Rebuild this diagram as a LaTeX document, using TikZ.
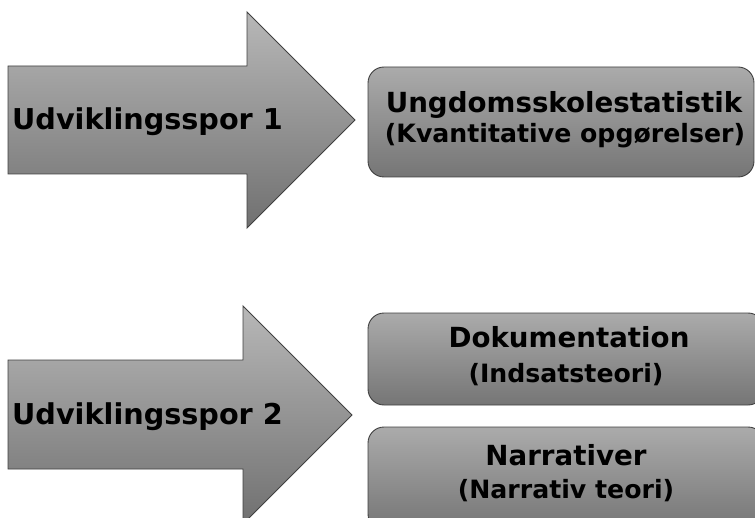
\documentclass[tikz,border=0pt]{standalone}
\usepackage{fontspec}
\setmainfont{DejaVu Sans}
\begin{document}
\begin{tikzpicture}[x=1bp,y=-1bp,
  arrowshape/.style={draw=black!75,line width=0.9bp,top color=black!28,bottom color=black!56},
  boxshape/.style={draw=black!75,line width=0.9bp,rounded corners=16bp,top color=black!33,bottom color=black!54},
  big/.style={font=\bfseries\fontsize{28.8}{30}\selectfont,inner sep=0pt},
  title/.style={font=\bfseries\fontsize{27.8}{29}\selectfont,inner sep=0pt},
  sub/.style={font=\bfseries\fontsize{25.3}{27}\selectfont,inner sep=0pt}]
\useasboundingbox (0,0) rectangle (755,518);
\begin{scope}
\clip (0,0) rectangle (755,518);
% arrows
\path[arrowshape] (8,66) -- (247,66) -- (247,12) -- (355,120) -- (247,228) -- (247,174) -- (8,174) -- cycle;
\path[arrowshape] (8,360) -- (243,360) -- (243,306) -- (352,415) -- (243,524) -- (243,469) -- (8,469) -- cycle;
% boxes
\path[boxshape] (368,67) rectangle (754,177);
\path[boxshape] (368,313) rectangle (764,405);
\path[boxshape] (368,427) rectangle (764,530);
\end{scope}
\node[big,anchor=base west] (a1) at (12,130) {Udviklingsspor 1};
\node[big,anchor=base west] (a2) at (12,424) {Udviklingsspor 2};
\node[title,anchor=base] (b1) at (564,113) {Ungdomsskolestatistik};
\node[sub,anchor=base] (b1s) at (565,143) {(Kvantitative opgørelser)};
\node[title,anchor=base] (b2) at (569,347) {Dokumentation};
\node[sub,anchor=base] (b2s) at (566,382) {(Indsatsteori)};
\node[title,anchor=base] (b3) at (566,465) {Narrativer};
\node[sub,anchor=base] (b3s) at (566,498) {(Narrativ teori)};
\end{tikzpicture}
\end{document}
